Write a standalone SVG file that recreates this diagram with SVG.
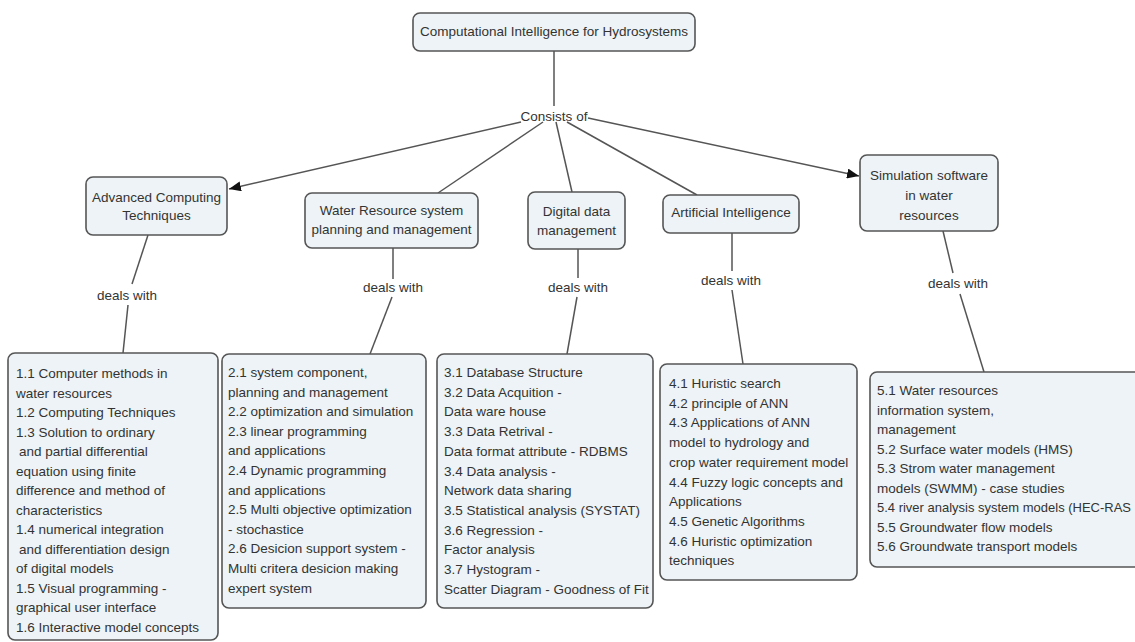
<svg xmlns="http://www.w3.org/2000/svg" width="1135" height="642" viewBox="0 0 1135 642">
<defs>
<style>
.box{fill:#edf3f6;stroke:#555;stroke-width:1.6}
.t{font-family:"Liberation Sans",Arial,sans-serif;font-size:13.5px;fill:#333}
.c{text-anchor:middle}
.ln{stroke:#555;stroke-width:1.5;fill:none}
</style>
<marker id="arr" viewBox="0 0 12 10" refX="12" refY="5" markerWidth="12" markerHeight="10" markerUnits="userSpaceOnUse" orient="auto">
<path d="M0,0 L12,5 L0,10 z" fill="#111"/>
</marker>
</defs>
<rect width="1135" height="642" fill="#fff"/>
<g id="connectors">
<line class="ln" x1="554" y1="51" x2="554" y2="106"/>
<line class="ln" x1="521" y1="122" x2="229" y2="189" marker-end="url(#arr)"/>
<line class="ln" x1="543" y1="122" x2="438" y2="193"/>
<line class="ln" x1="556" y1="122" x2="572" y2="192"/>
<line class="ln" x1="567" y1="122" x2="697" y2="195"/>
<line class="ln" x1="588" y1="118" x2="859" y2="176" marker-end="url(#arr)"/>
<line class="ln" x1="148" y1="235" x2="132" y2="284"/>
<line class="ln" x1="128" y1="305" x2="123" y2="353"/>
<line class="ln" x1="393" y1="248" x2="393" y2="279"/>
<line class="ln" x1="392" y1="297" x2="370" y2="354"/>
<line class="ln" x1="578" y1="249" x2="578" y2="278"/>
<line class="ln" x1="577" y1="297" x2="567" y2="354"/>
<line class="ln" x1="732" y1="233" x2="732" y2="271"/>
<line class="ln" x1="732" y1="290" x2="743" y2="364"/>
<line class="ln" x1="943" y1="231" x2="953" y2="273"/>
<line class="ln" x1="960" y1="294" x2="984" y2="372"/>
</g>
<g id="labels">
<text class="t c" x="554" y="121">Consists of</text>
<text class="t c" x="127" y="300">deals with</text>
<text class="t c" x="393" y="292">deals with</text>
<text class="t c" x="578" y="292">deals with</text>
<text class="t c" x="731" y="285">deals with</text>
<text class="t c" x="958" y="288">deals with</text>
</g>
<g id="n-root">
<rect class="box" x="413" y="13" width="282" height="38" rx="7"/>
<text class="t c" x="554" y="36">Computational Intelligence for Hydrosystems</text>
</g>
<g id="n-advanced">
<rect class="box" x="86" y="177" width="141" height="58" rx="7"/>
<text class="t c" x="156.5" y="202">Advanced Computing</text>
<text class="t c" x="156.5" y="220">Techniques</text>
</g>
<g id="n-water">
<rect class="box" x="305" y="193" width="173" height="55" rx="7"/>
<text class="t c" x="391.5" y="215">Water Resource system</text>
<text class="t c" x="391.5" y="234">planning and management</text>
</g>
<g id="n-digital">
<rect class="box" x="528" y="192" width="97" height="57" rx="7"/>
<text class="t c" x="576.5" y="216">Digital data</text>
<text class="t c" x="576.5" y="235">management</text>
</g>
<g id="n-ai">
<rect class="box" x="663" y="195" width="136" height="38" rx="7"/>
<text class="t c" x="731" y="217">Artificial Intelligence</text>
</g>
<g id="n-sim">
<rect class="box" x="860" y="155" width="138" height="76" rx="7"/>
<text class="t c" x="929" y="180">Simulation software</text>
<text class="t c" x="929" y="200">in water</text>
<text class="t c" x="929" y="220">resources</text>
</g>
<g id="n-list1">
<rect class="box" x="8" y="353" width="210" height="287" rx="7"/>
<text class="t" x="16" y="378">
<tspan x="16" dy="0">1.1 Computer methods in</tspan>
<tspan x="16" dy="19.5">water resources</tspan>
<tspan x="16" dy="19.5">1.2 Computing Techniques</tspan>
<tspan x="16" dy="19.5">1.3 Solution to ordinary</tspan>
<tspan x="19" dy="19.5">and partial differential</tspan>
<tspan x="16" dy="19.5">equation using finite</tspan>
<tspan x="16" dy="19.5">difference and method of</tspan>
<tspan x="16" dy="19.5">characteristics</tspan>
<tspan x="16" dy="19.5">1.4 numerical integration</tspan>
<tspan x="19" dy="19.5">and differentiation design</tspan>
<tspan x="16" dy="19.5">of digital models</tspan>
<tspan x="16" dy="19.5">1.5 Visual programming -</tspan>
<tspan x="16" dy="19.5">graphical user interface</tspan>
<tspan x="16" dy="19.5">1.6 Interactive model concepts</tspan>
</text>
</g>
<g id="n-list2">
<rect class="box" x="222" y="354" width="204" height="254" rx="7"/>
<text class="t" x="228" y="377">
<tspan x="228" dy="0">2.1 system component,</tspan>
<tspan x="228" dy="19.6">planning and management</tspan>
<tspan x="228" dy="19.6">2.2 optimization and simulation</tspan>
<tspan x="228" dy="19.6">2.3 linear programming</tspan>
<tspan x="228" dy="19.6">and applications</tspan>
<tspan x="228" dy="19.6">2.4 Dynamic programming</tspan>
<tspan x="228" dy="19.6">and applications</tspan>
<tspan x="228" dy="19.6">2.5 Multi objective optimization</tspan>
<tspan x="228" dy="19.6">- stochastice</tspan>
<tspan x="228" dy="19.6">2.6 Desicion support system -</tspan>
<tspan x="228" dy="19.6">Multi critera desicion making</tspan>
<tspan x="228" dy="19.6">expert system</tspan>
</text>
</g>
<g id="n-list3">
<rect class="box" x="437" y="354" width="216" height="254" rx="7"/>
<text class="t" x="444" y="377">
<tspan x="444" dy="0">3.1 Database Structure</tspan>
<tspan x="444" dy="19.7">3.2 Data Acquition -</tspan>
<tspan x="444" dy="19.7">Data ware house</tspan>
<tspan x="444" dy="19.7">3.3 Data Retrival -</tspan>
<tspan x="444" dy="19.7">Data format attribute - RDBMS</tspan>
<tspan x="444" dy="19.7">3.4 Data analysis -</tspan>
<tspan x="444" dy="19.7">Network data sharing</tspan>
<tspan x="444" dy="19.7">3.5 Statistical analysis (SYSTAT)</tspan>
<tspan x="444" dy="19.7">3.6 Regression -</tspan>
<tspan x="444" dy="19.7">Factor analysis</tspan>
<tspan x="444" dy="19.7">3.7 Hystogram -</tspan>
<tspan x="444" dy="19.7">Scatter Diagram - Goodness of Fit</tspan>
</text>
</g>
<g id="n-list4">
<rect class="box" x="660" y="364" width="197" height="216" rx="7"/>
<text class="t" x="669" y="388">
<tspan x="669" dy="0">4.1 Huristic search</tspan>
<tspan x="669" dy="19.7">4.2 principle of ANN</tspan>
<tspan x="669" dy="19.7">4.3 Applications of ANN</tspan>
<tspan x="669" dy="19.7">model to hydrology and</tspan>
<tspan x="669" dy="19.7">crop water requirement model</tspan>
<tspan x="669" dy="19.7">4.4 Fuzzy logic concepts and</tspan>
<tspan x="669" dy="19.7">Applications</tspan>
<tspan x="669" dy="19.7">4.5 Genetic Algorithms</tspan>
<tspan x="669" dy="19.7">4.6 Huristic optimization</tspan>
<tspan x="669" dy="19.7">techniques</tspan>
</text>
</g>
<g id="n-list5">
<rect class="box" x="870" y="372" width="290" height="195" rx="7"/>
<text class="t" x="877" y="395">
<tspan x="877" dy="0">5.1 Water resources</tspan>
<tspan x="877" dy="19.5">information system,</tspan>
<tspan x="877" dy="19.5">management</tspan>
<tspan x="877" dy="19.5">5.2 Surface water models (HMS)</tspan>
<tspan x="877" dy="19.5">5.3 Strom water management</tspan>
<tspan x="877" dy="19.5">models (SWMM) - case studies</tspan>
</text>
<text class="t" x="877" y="512" textLength="254" lengthAdjust="spacingAndGlyphs">5.4 river analysis system models (HEC-RAS</text>
<text class="t" x="877" y="531.5">
<tspan x="877" dy="0">5.5 Groundwater flow models</tspan>
<tspan x="877" dy="19.5">5.6 Groundwate transport models</tspan>
</text>
</g>
</svg>
